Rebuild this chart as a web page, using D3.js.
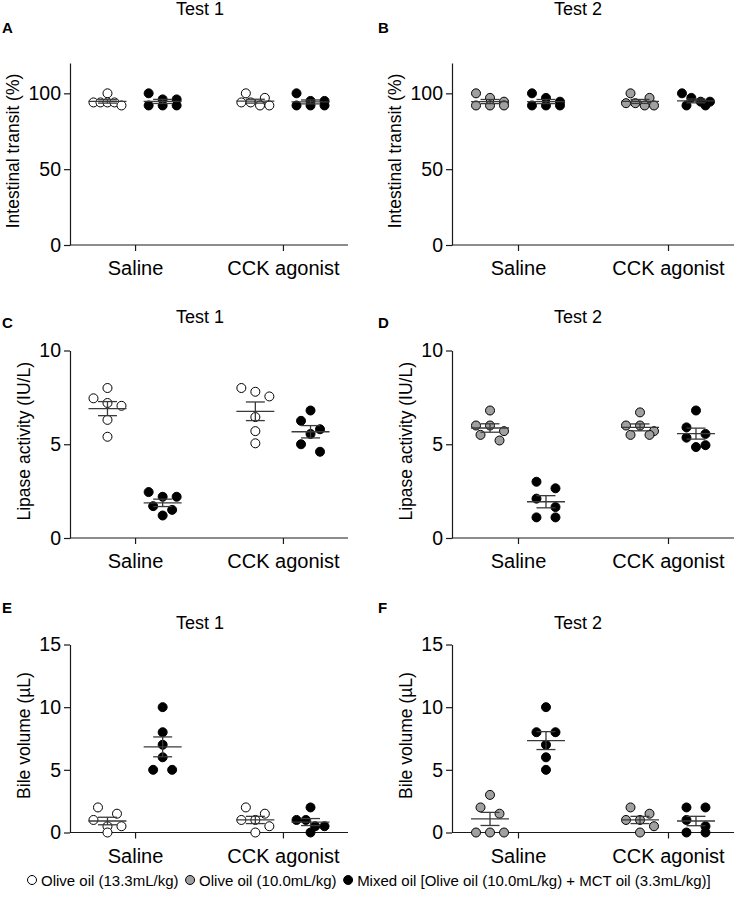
<!DOCTYPE html>
<html><head><meta charset="utf-8">
<script src="https://cdn.jsdelivr.net/npm/d3@7"></script>
<style>
body{margin:0;background:#fff}
svg{display:block;font-family:Arial,"Liberation Sans",sans-serif}
</style>
</head><body>
<svg id="chart" width="736" height="922"></svg>
<script>
// ---------------- data ----------------
const categories = ["Saline", "CCK agonist"];
const legendLabels = ["Olive oil (13.3mL/kg)", "Olive oil (10.0mL/kg)", "Mixed oil [Olive oil (10.0mL/kg) + MCT oil (3.3mL/kg)]"];
const transitTicks = [0, 50, 100];
const lipaseTicks = [0, 5, 10];
const bileTicks = [0, 5, 10, 15];

// each array: [Saline values, CCK agonist values]
const aOlive13 = [[100, 94, 94, 94, 94, 92], [100, 97, 94, 94, 92, 92]];
const aMixed   = [[100, 96, 96, 92, 92, 92], [100, 95, 95, 92, 92, 92]];
const bOlive10 = [[100, 97, 94.5, 92, 92, 92], [100, 97, 93.5, 93.5, 92, 92]];
const bMixed   = [[100, 97, 94.5, 92, 92, 92], [100, 97, 94.5, 94.5, 92, 92]];
const cOlive13 = [[8.0, 7.45, 7.2, 7.05, 6.3, 5.4], [8.0, 7.8, 7.55, 6.45, 5.7, 5.05]];
const cMixed   = [[2.45, 2.2, 2.2, 1.7, 1.5, 1.2], [6.8, 6.25, 5.8, 5.55, 5.0, 4.6]];
const dOlive10 = [[6.8, 6.0, 6.0, 5.7, 5.5, 5.2], [6.7, 6.0, 6.0, 5.7, 5.5, 5.5]];
const dMixed   = [[3.0, 2.65, 2.1, 1.65, 1.1, 1.1], [6.8, 5.9, 5.55, 5.35, 4.95, 4.85]];
const eOlive13 = [[2, 1.5, 1, 0.5, 0.5, 0], [2, 1.5, 1, 1, 0.5, 0]];
const eMixed   = [[10, 8, 7, 6, 5, 5], [2, 1, 1, 0.5, 0.5, 0]];
const fOlive10 = [[3, 2, 1.5, 0, 0, 0], [2, 1.5, 1, 1, 0.5, 0]];
const fMixed   = [[10, 8, 8, 7, 6, 5], [2, 2, 1, 0.5, 0, 0]];

// ---------------- styles / layout ----------------
const FILLS = ["#ffffff", "#a0a0a0", "#000000"];
const panels = [
  {letter: "A", title: "Test 1", ylabel: "Intestinal transit (%)", ymax: 120, ticks: transitTicks, groups: [aOlive13, aMixed], fills: [0, 2], col: 0, row: 0},
  {letter: "B", title: "Test 2", ylabel: "Intestinal transit (%)", ymax: 120, ticks: transitTicks, groups: [bOlive10, bMixed], fills: [1, 2], col: 1, row: 0},
  {letter: "C", title: "Test 1", ylabel: "Lipase activity (IU/L)", ymax: 10, ticks: lipaseTicks, groups: [cOlive13, cMixed], fills: [0, 2], col: 0, row: 1},
  {letter: "D", title: "Test 2", ylabel: "Lipase activity (IU/L)", ymax: 10, ticks: lipaseTicks, groups: [dOlive10, dMixed], fills: [1, 2], col: 1, row: 1},
  {letter: "E", title: "Test 1", ylabel: "Bile volume (\u00b5L)", ymax: 15, ticks: bileTicks, groups: [eOlive13, eMixed], fills: [0, 2], col: 0, row: 2},
  {letter: "F", title: "Test 2", ylabel: "Bile volume (\u00b5L)", ymax: 15, ticks: bileTicks, groups: [fOlive10, fMixed], fills: [1, 2], col: 1, row: 2}
];
const cols = [{x0: 70, x1: 348, title: 200, letter: 2}, {x0: 452, x1: 734, title: 578, letter: 378}];
const rows = [{top: 63, bottom: 245, title: 15, letter: 33},
              {top: 350.5, bottom: 538, title: 322.7, letter: 328},
              {top: 644.5, bottom: 832.5, title: 629.3, letter: 613}];
const R = 4.5;
const AXIS_COLOR = "#1a1a1a";
const ERR_COLOR = "#3a3a3a";

const svg = d3.select("#chart");

// row-binned scatter layout (points close in y share a row, spread horizontally)
function swarm(ys) {
  const order = ys.map((y, i) => i).sort((a, b) => ys[a] - ys[b]);
  const rowsOut = [];
  order.forEach(i => {
    const last = rowsOut[rowsOut.length - 1];
    if (last && ys[i] - ys[last[0]] < 2 * R) last.push(i);
    else rowsOut.push([i]);
  });
  const offs = new Array(ys.length).fill(0);
  rowsOut.forEach(rw => {
    const n = rw.length;
    if (n === 1) return;
    const sp = Math.min(19, 28 / (n - 1));
    rw.forEach((idx, k) => { offs[idx] = (k - (n - 1) / 2) * sp; });
  });
  return offs;
}

panels.forEach(p => {
  const c = cols[p.col], r = rows[p.row];
  const g = svg.append("g");
  const y = d3.scaleLinear().domain([0, p.ymax]).range([r.bottom, r.top]);
  const x = d3.scalePoint().domain(categories).range([c.x0, c.x1]).padding(0.44);
  const inner = d3.scalePoint().domain([0, 1]).range([-x.step() / 2, x.step() / 2]).padding(0.84);

  // axes
  const yAx = g.append("g").attr("transform", `translate(${c.x0},0)`)
    .call(d3.axisLeft(y).tickValues(p.ticks).tickSize(6).tickSizeOuter(0).tickPadding(3));
  const xAx = g.append("g").attr("transform", `translate(0,${r.bottom})`)
    .call(d3.axisBottom(x).tickSize(6).tickSizeOuter(0).tickPadding(5));
  xAx.select(".domain").attr("d", `M${c.x0},0H${c.x1}`);
  [yAx, xAx].forEach(a => {
    a.selectAll("path,line").attr("stroke", AXIS_COLOR).attr("stroke-width", 1.2);
    a.selectAll("text").attr("fill", "#000").attr("font-size", 19.5).attr("font-family", "Arial, 'Liberation Sans', sans-serif");
  });
  xAx.selectAll("text").attr("font-size", 20).attr("dy", "0.95em");

  const maxW = d3.max(yAx.selectAll("text").nodes(), n => n.getComputedTextLength());
  g.append("text")
    .attr("transform", `translate(${c.x0 - (6 + 3 + maxW) - 15},${(r.top + r.bottom) / 2 - 3}) rotate(-90)`)
    .attr("text-anchor", "middle").attr("dominant-baseline", "central")
    .attr("font-size", 17.5).text(p.ylabel);

  // title & letter
  svg.append("text").attr("x", c.title).attr("y", r.title).attr("text-anchor", "middle")
    .attr("font-size", 18).text(p.title);
  svg.append("text").attr("x", c.letter).attr("y", r.letter).attr("font-size", 15)
    .attr("font-weight", "900").text(p.letter);

  // data
  p.groups.forEach((grp, si) => {
    grp.forEach((vals, ci) => {
      const cx = x(categories[ci]) + inner(si);
      const ys = vals.map(v => y(v));
      const offs = swarm(ys);
      g.append("g").selectAll("circle").data(vals).join("circle")
        .attr("cx", (d, i) => cx + offs[i]).attr("cy", d => y(d)).attr("r", R)
        .attr("fill", FILLS[p.fills[si]]).attr("stroke", "#000").attr("stroke-width", 1);
      const m = d3.mean(vals);
      const sem = d3.deviation(vals) / Math.sqrt(vals.length);
      const eg = g.append("g").attr("stroke", ERR_COLOR).attr("stroke-width", 1.3).attr("fill", "none");
      eg.append("line").attr("x1", cx - 19).attr("x2", cx + 19).attr("y1", y(m)).attr("y2", y(m));
      eg.append("line").attr("x1", cx).attr("x2", cx).attr("y1", y(m - sem)).attr("y2", y(m + sem));
      [m - sem, m + sem].forEach(v => {
        eg.append("line").attr("x1", cx - 9.5).attr("x2", cx + 9.5).attr("y1", y(v)).attr("y2", y(v));
      });
    });
  });
});

// legend
const lg = svg.append("g").attr("font-size", 15);
let lx = 32;
const ly = 880;
legendLabels.forEach((lab, i) => {
  lg.append("circle").attr("cx", lx).attr("cy", ly).attr("r", 4.5)
    .attr("fill", FILLS[i]).attr("stroke", "#000").attr("stroke-width", 1);
  const t = lg.append("text").attr("x", lx + 9).attr("y", ly).attr("dominant-baseline", "central").text(lab);
  lx = lx + 9 + t.node().getComputedTextLength() + 11.5;
});
</script>
</body></html>
